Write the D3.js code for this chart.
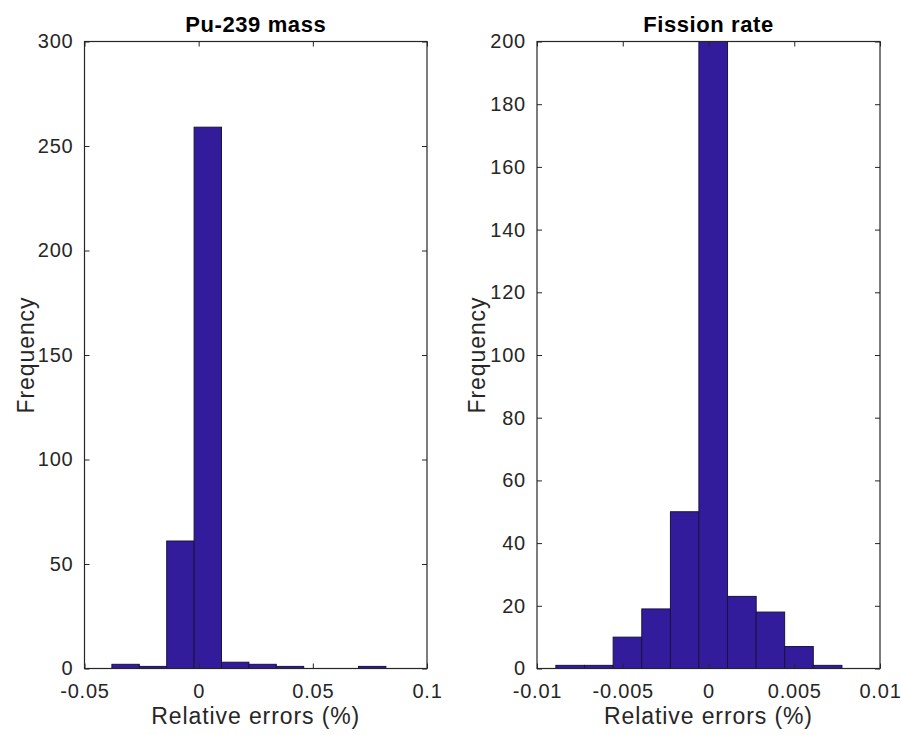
<!DOCTYPE html>
<html lang="en">
<head>
<meta charset="UTF-8">
<title>Relative error histograms</title>
<script src="https://cdn.jsdelivr.net/npm/d3@7"></script>
<style>
  body { margin: 0; background: #fff; }
  svg text { font-family: "Liberation Sans", Arial, sans-serif; fill: #262626; }
</style>
</head>
<body>
<div id="viz"></div>
<script>
// bin edges and counts
var puEdges = [-0.038, -0.026, -0.014, -0.002, 0.010, 0.022, 0.034, 0.046, 0.058, 0.070, 0.082];
var puCounts = [2, 1, 61, 259, 3, 2, 1, 0, 0, 1];
var puXTicks = [-0.05, 0, 0.05, 0.1];
var puYTicks = [0, 50, 100, 150, 200, 250, 300];

var fiEdges = [-0.0089, -0.00723, -0.00556, -0.00389, -0.00222, -0.00056, 0.00111, 0.00278, 0.00444, 0.00611, 0.00778];
var fiCounts = [1, 1, 10, 19, 50, 200, 23, 18, 7, 1];
var fiXTicks = [-0.01, -0.005, 0, 0.005, 0.01];
var fiYTicks = [0, 20, 40, 60, 80, 100, 120, 140, 160, 180, 200];

var W = 901, H = 735;
var svg = d3.select("#viz").append("svg")
    .attr("width", W)
    .attr("height", H);

function panel(opt) {
    var x = d3.scaleLinear().domain(opt.xDomain).range([opt.left, opt.right]);
    var y = d3.scaleLinear().domain(opt.yDomain).range([opt.bottom, opt.top]);
    var g = svg.append("g");

    var clipId = "clip" + opt.id;
    g.append("clipPath").attr("id", clipId)
      .append("rect")
        .attr("x", opt.left).attr("y", opt.top - 1)
        .attr("width", opt.right - opt.left).attr("height", opt.bottom - opt.top + 1);

    var bins = opt.counts.map(function(c, i) {
        return {x0: opt.edges[i], x1: opt.edges[i + 1], n: c};
    });

    g.append("g").attr("clip-path", "url(#" + clipId + ")")
      .selectAll("rect").data(bins).enter().append("rect")
        .attr("x", function(d) { return x(d.x0); })
        .attr("width", function(d) { return x(d.x1) - x(d.x0); })
        .attr("y", function(d) { return y(d.n); })
        .attr("height", function(d) { return y(0) - y(d.n); })
        .attr("fill", "#321c9c")
        .attr("stroke", "#1a1240")
        .attr("stroke-width", 1);

    // axes, matlab style: ticks inside and mirrored
    var tk = 5;
    var fmt = function(d) { return String(d); };
    g.append("g").attr("transform", "translate(0," + opt.bottom + ")")
        .call(d3.axisBottom(x).tickValues(opt.xTicks).tickSizeInner(-tk).tickSizeOuter(0).tickPadding(15).tickFormat(fmt))
        .call(styleAxis);
    g.append("g").attr("transform", "translate(0," + opt.top + ")")
        .call(d3.axisTop(x).tickValues(opt.xTicks).tickSizeInner(-tk).tickSizeOuter(0).tickFormat(""))
        .call(styleAxis);
    g.append("g").attr("transform", "translate(" + opt.left + ",0)")
        .call(d3.axisLeft(y).tickValues(opt.yTicks).tickSizeInner(-tk).tickSizeOuter(0).tickPadding(11).tickFormat(fmt))
        .call(styleAxis);
    g.append("g").attr("transform", "translate(" + opt.right + ",0)")
        .call(d3.axisRight(y).tickValues(opt.yTicks).tickSizeInner(-tk).tickSizeOuter(0).tickFormat(""))
        .call(styleAxis);

    g.append("rect")
        .attr("x", opt.left).attr("y", opt.top)
        .attr("width", opt.right - opt.left).attr("height", opt.bottom - opt.top)
        .attr("fill", "none").attr("stroke", "#262626").attr("stroke-width", 1.2);

    var cx = (opt.left + opt.right) / 2;
    g.append("text").attr("x", cx).attr("y", 32)
        .attr("text-anchor", "middle")
        .style("font-size", "22px").style("font-weight", "bold")
        .style("letter-spacing", "0.6px")
        .style("fill", "#000")
        .text(opt.title);
    g.append("text").attr("x", cx).attr("y", 724)
        .attr("text-anchor", "middle")
        .style("font-size", "23px")
        .style("letter-spacing", "0.9px")
        .text("Relative errors (%)");
    g.append("text")
        .attr("transform", "translate(" + opt.yLabelX + "," + ((opt.top + opt.bottom) / 2) + ") rotate(-90)")
        .attr("text-anchor", "middle")
        .style("font-size", "23px")
        .style("letter-spacing", "0.9px")
        .text("Frequency");
}

function styleAxis(sel) {
    sel.select(".domain").remove();
    sel.selectAll(".tick line").attr("stroke", "#262626");
    sel.selectAll(".tick text")
        .style("font-size", "20px")
        .style("letter-spacing", "0.8px")
        .style("fill", "#262626")
        .attr("font-family", null);
}

panel({
    id: 1, title: "Pu-239 mass",
    left: 84.5, right: 427, top: 41.5, bottom: 668.5,
    xDomain: [-0.05, 0.1], yDomain: [0, 300],
    edges: puEdges, counts: puCounts, xTicks: puXTicks, yTicks: puYTicks,
    yLabelX: 34
});

panel({
    id: 2, title: "Fission rate",
    left: 537, right: 880, top: 41.5, bottom: 668.5,
    xDomain: [-0.01, 0.01], yDomain: [0, 200],
    edges: fiEdges, counts: fiCounts, xTicks: fiXTicks, yTicks: fiYTicks,
    yLabelX: 485
});
</script>
</body>
</html>
